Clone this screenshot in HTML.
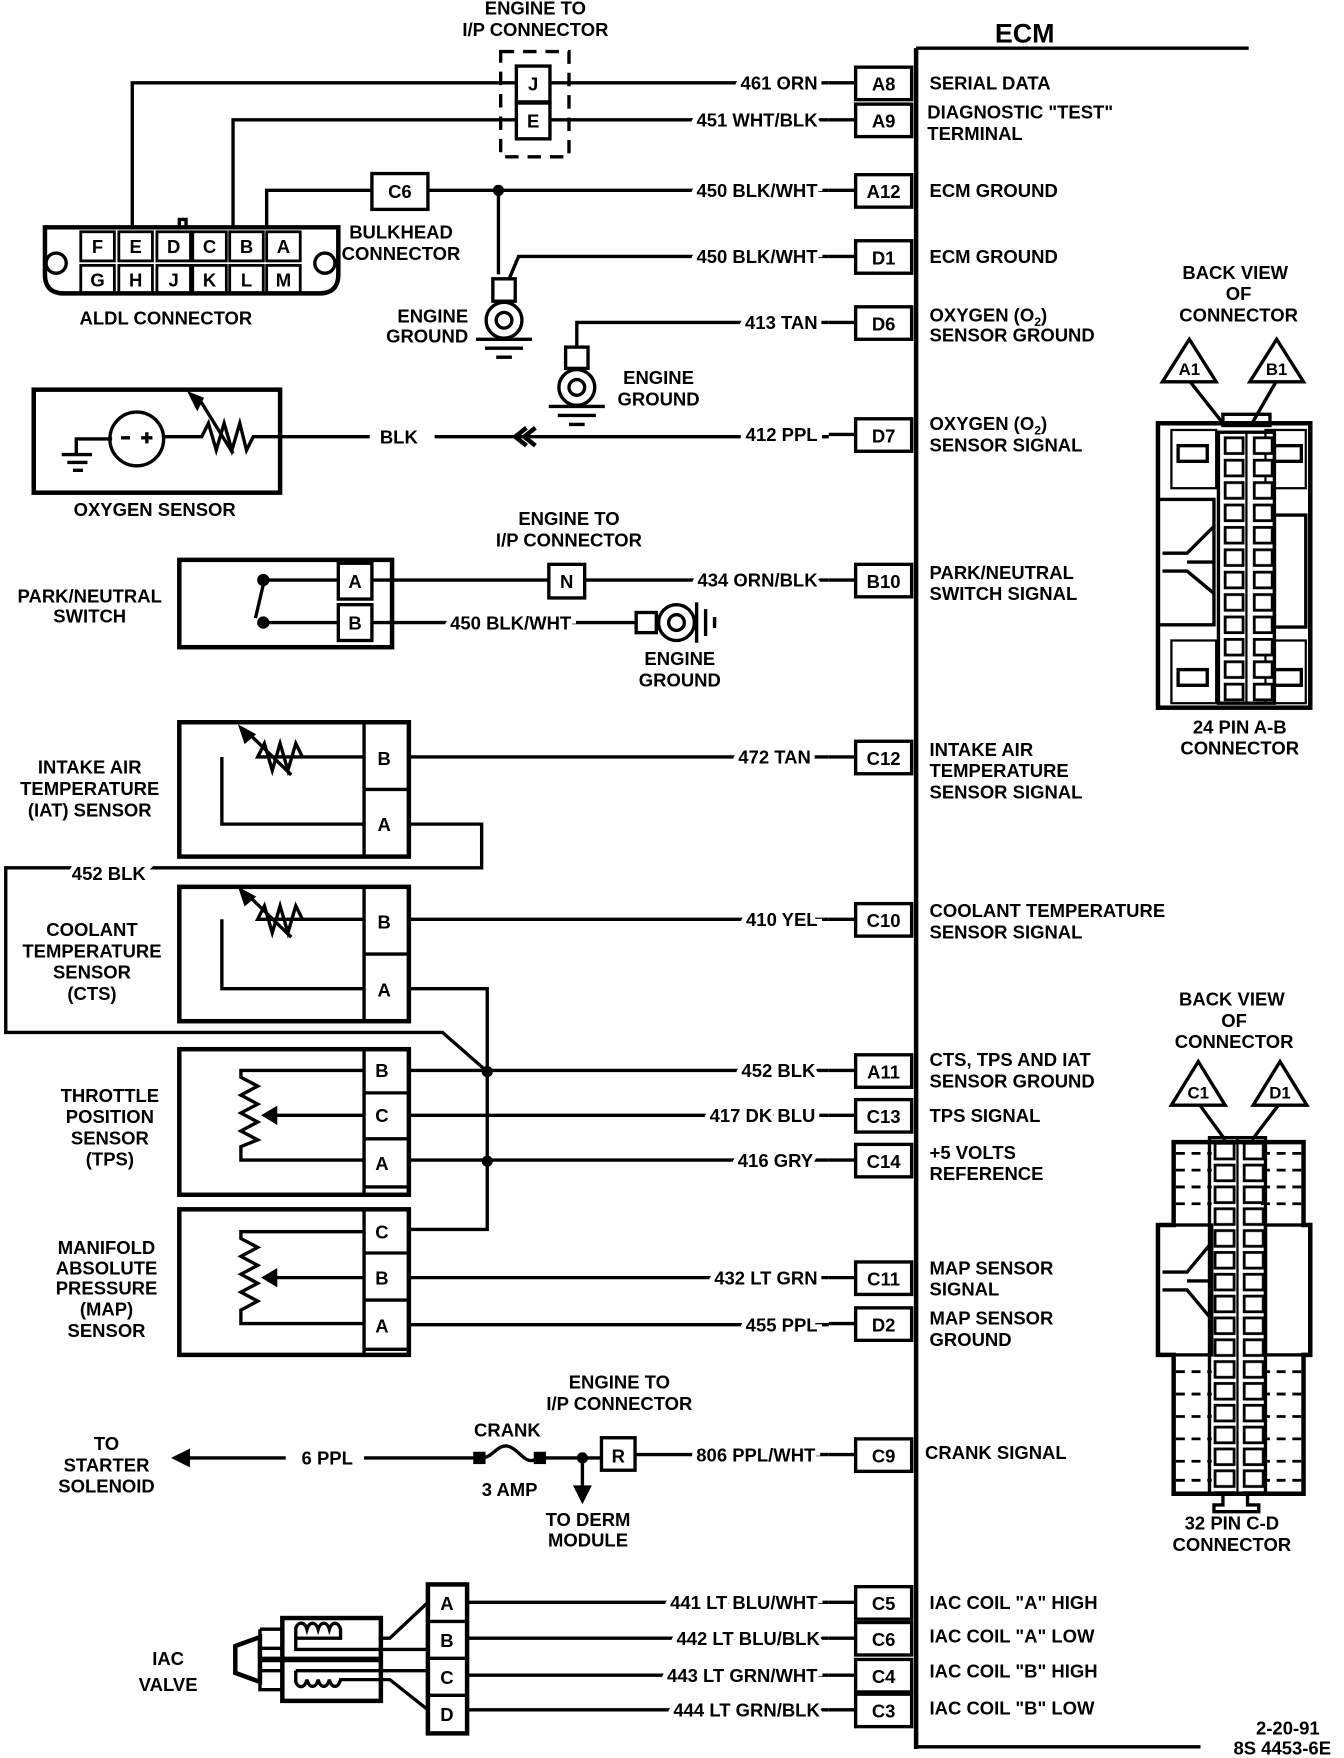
<!DOCTYPE html>
<html><head><meta charset="utf-8"><style>
html,body{margin:0;padding:0;background:#fff}
svg{display:block}
text{font-family:"Liberation Sans",Arial,sans-serif;font-weight:bold;font-size:16.5px;fill:#000}
.w{stroke:#fff;stroke-width:9;paint-order:stroke}
.m{text-anchor:middle}
.e{text-anchor:end}
</style></head><body>
<svg width="1344" height="1758" viewBox="0 0 1200 1570" xmlns="http://www.w3.org/2000/svg">
<defs>
<pattern id="c1" x="1092" y="388" width="26" height="20" patternUnits="userSpaceOnUse">
<rect x="2" y="3" width="16" height="14" fill="#fff" stroke="#000" stroke-width="2.5"/></pattern>
<pattern id="c2" x="1083" y="1018" width="26" height="19.5" patternUnits="userSpaceOnUse">
<rect x="2" y="3" width="17" height="14" fill="#fff" stroke="#000" stroke-width="2.5"/></pattern>
</defs>
<g stroke="#000" stroke-width="3" fill="none">
<line x1="818" y1="43" x2="818" y2="1562" stroke-width="4"/>
<line x1="818" y1="43" x2="1115" y2="43"/>
<line x1="818" y1="1560" x2="1072" y2="1560"/>
<g stroke-width="3">
<rect x="764" y="60" width="50" height="29"/><rect x="764" y="93" width="50" height="29"/>
<rect x="764" y="156" width="50" height="29"/><rect x="764" y="215" width="50" height="29"/>
<rect x="764" y="274" width="50" height="29"/><rect x="764" y="374" width="50" height="29"/>
<rect x="764" y="504" width="50" height="29"/><rect x="764" y="662" width="50" height="29"/>
<rect x="764" y="807" width="50" height="29"/><rect x="764" y="942" width="50" height="29"/>
<rect x="764" y="982" width="50" height="29"/><rect x="764" y="1022" width="50" height="29"/>
<rect x="764" y="1127" width="50" height="29"/><rect x="764" y="1168" width="50" height="29"/>
<rect x="764" y="1285" width="50" height="29"/><rect x="764" y="1417" width="50" height="29"/>
<rect x="764" y="1449" width="50" height="29"/><rect x="764" y="1482" width="50" height="29"/>
<rect x="764" y="1513" width="50" height="29"/>
</g>
<path d="M740 74H764M740 107H764M740 170H764M740 229H764M740 288H764M740 388H764M740 518H764M740 676H764M740 821H764M740 956H764M740 996H764M740 1036H764M740 1141H764M740 1182H764M740 1299H764M740 1431H764M740 1463H764M740 1496H764M740 1527H764"/>
<rect x="447" y="46" width="61" height="94" stroke-dasharray="12 8"/>
<rect x="461" y="59" width="30" height="32"/><rect x="461" y="92" width="30" height="32"/>
<path d="M118 205V74H461M491 74H740"/>
<path d="M208 205V107H461M491 107H740"/>
<path d="M238 205V170H332M382 170H740"/>
<rect x="332" y="155" width="50" height="32"/>
<path d="M445 170V245"/>
<path d="M740 229H463L455 248"/>
<rect x="440" y="249" width="20" height="20"/>
<circle cx="450" cy="286" r="16"/><circle cx="450" cy="286" r="7"/>
<path d="M425 303H475M433 311H467M443 319H457"/>
<path d="M740 288H515V310"/>
<rect x="505" y="310" width="20" height="19"/>
<circle cx="515" cy="346" r="16"/><circle cx="515" cy="346" r="7"/>
<path d="M490 363H540M498 371H532M508 379H522"/>
<path d="M40 203H302V245Q302 262 285 262H57Q40 262 40 245Z" stroke-width="4"/>
<path d="M160 203V196H166V203"/>
<circle cx="50" cy="235" r="9"/><circle cx="290" cy="235" r="9"/>
<g stroke-width="2.5">
<rect x="72" y="207" width="30" height="26"/><rect x="106" y="207" width="30" height="26"/><rect x="140" y="207" width="30" height="26"/><rect x="172" y="207" width="30" height="26"/><rect x="205" y="207" width="30" height="26"/><rect x="238" y="207" width="30" height="26"/>
<rect x="72" y="237" width="30" height="25"/><rect x="106" y="237" width="30" height="25"/><rect x="140" y="237" width="30" height="25"/><rect x="172" y="237" width="30" height="25"/><rect x="205" y="237" width="30" height="25"/><rect x="238" y="237" width="30" height="25"/>
</g>
<rect x="30" y="348" width="220" height="92" stroke-width="4"/>
<path d="M68 405V392H100M55 406H82M60 413H78M65 420H74"/>
<circle cx="122" cy="392" r="24"/>
<path d="M108 391H116M126 391H136M131 386V396"/>
<path d="M146 390H180L186 378L193 402L200 378L207 402L214 378L220 402L226 390H250M177 355L208 405"/>
<path d="M170 352L180 356L176 364Z" fill="#000"/>
<path d="M250 390H330M388 390H740"/>
<path d="M470 382L460 390L470 398M478 382L468 390L478 398" stroke-width="4"/>
<rect x="160" y="500" width="190" height="78" stroke-width="4"/>
<rect x="302" y="503" width="30" height="32"/><rect x="302" y="540" width="30" height="32"/>
<path d="M302 518H235V522M302 556H235M235 522L228 552"/>
<circle cx="235" cy="518" r="4" fill="#000"/><circle cx="235" cy="556" r="4" fill="#000"/>
<path d="M332 518H490M522 518H740"/>
<rect x="490" y="504" width="32" height="30"/>
<path d="M332 556H568"/>
<rect x="568" y="547" width="18" height="18"/>
<circle cx="604" cy="556" r="16"/><circle cx="604" cy="556" r="7"/>
<path d="M622 538V574M630 544V568M638 551V561"/>
<rect x="160" y="645" width="205" height="120" stroke-width="4"/>
<path d="M325 645V765M325 705H365"/>
<path d="M325 676H230L236 664L243 688L250 664L257 688L264 664L270 676M198 676V736H325M222 655L260 692"/>
<path d="M215 650L226 656L219 662Z" fill="#000"/>
<path d="M365 676H740M365 736H430V775H5V922H395L435 957"/>
<rect x="160" y="792" width="205" height="120" stroke-width="4"/>
<path d="M325 792V912M325 852H365"/>
<path d="M325 821H230L236 809L243 833L250 809L257 833L264 809L270 821M198 821V883H325M222 800L260 837"/>
<path d="M215 795L226 801L219 807Z" fill="#000"/>
<path d="M365 821H740M365 883H435V1098H365"/>
<rect x="160" y="937" width="205" height="130" stroke-width="4"/>
<path d="M325 937V1067M325 976H365M325 1017H365M325 1060H365"/>
<path d="M325 956H215V962L230 970L215 978L230 986L215 994L230 1002L215 1010L230 1018L215 1024V1036H325M325 996H245"/>
<path d="M246 990L236 996L246 1002Z" fill="#000"/>
<path d="M365 956H740M365 996H740M365 1036H740"/>
<rect x="160" y="1080" width="205" height="130" stroke-width="4"/>
<path d="M325 1080V1210M325 1119H365M325 1161H365M325 1205H365"/>
<path d="M325 1100H215V1106L230 1114L215 1122L230 1130L215 1138L230 1146L215 1154L230 1162L215 1170V1182H325M325 1141H245"/>
<path d="M246 1135L236 1141L246 1147Z" fill="#000"/>
<path d="M365 1141H740M365 1183H740"/>
<path d="M255 1302H160"/>
<path d="M168 1296L156 1302L168 1308Z" fill="#000"/>
<path d="M325 1302H425M485 1302H537M567 1299H740"/>
<path d="M430 1302C440 1302 445 1288 455 1292C465 1296 470 1310 480 1302"/>
<rect x="424" y="1298" width="8" height="8" fill="#000"/><rect x="478" y="1298" width="8" height="8" fill="#000"/>
<rect x="537" y="1284" width="30" height="29"/>
<path d="M520 1302V1335"/>
<path d="M514 1328L520 1340L526 1328Z" fill="#000"/>
<rect x="382" y="1415" width="35" height="133" stroke-width="4"/>
<path d="M382 1448H417M382 1481H417M382 1514H417"/>
<path d="M417 1431H740M417 1463H740M417 1496H740M417 1527H740"/>
<rect x="252" y="1445" width="88" height="74" stroke-width="4"/>
<path d="M232 1455H252M232 1455V1509H252M232 1472H252M232 1492H252"/>
<path d="M210 1470L232 1462V1502L210 1494Z" stroke-width="4"/>
<path d="M232 1482H338" stroke-width="5"/>
<path d="M290 1463H264V1454C266 1448 272 1448 274 1455C276 1448 282 1448 284 1455C286 1448 292 1448 294 1455C296 1448 302 1448 304 1455V1463H290M264 1463V1473H338"/>
<path d="M264 1492V1502C266 1508 272 1508 274 1500C276 1508 282 1508 284 1500C286 1508 292 1508 294 1500C296 1508 302 1508 304 1500H338M264 1492H338"/>
<path d="M338 1463H348L382 1431M338 1473H382V1463M338 1492H382M338 1500H348L382 1527"/>
<!-- 24 pin connector -->
<path d="M1062 340L1092 378M1140 340L1118 378"/>
<path d="M1038 341L1062 303L1086 341Z M1116 341L1140 303L1164 341Z" fill="#fff" stroke-width="3"/>
<rect x="1034" y="378" width="136" height="254" stroke-width="4"/>
<rect x="1092" y="370" width="42" height="10"/>
<rect x="1046" y="384" width="40" height="52" stroke-width="2"/><rect x="1130" y="384" width="36" height="52" stroke-width="2"/>
<rect x="1052" y="398" width="26" height="14"/><rect x="1138" y="398" width="24" height="14"/>
<rect x="1046" y="572" width="40" height="56" stroke-width="2"/><rect x="1130" y="572" width="36" height="56" stroke-width="2"/>
<rect x="1052" y="598" width="26" height="14"/><rect x="1138" y="598" width="24" height="14"/>
<rect x="1034" y="446" width="50" height="112" stroke-width="3"/>
<rect x="1138" y="460" width="28" height="100" stroke-width="3"/>
<path d="M1038 494H1060L1084 470M1038 510H1060L1084 530M1060 502H1084"/>
<rect x="1088" y="386" width="50" height="242" fill="url(#c1)" stroke-width="3"/>
<line x1="1113" y1="386" x2="1113" y2="628" stroke-width="2"/>
<!-- 32 pin connector -->
<path d="M1070 985L1094 1018M1143 985L1118 1018"/>
<path d="M1046 987L1070 948L1094 987Z M1119 987L1143 948L1167 987Z" fill="#fff" stroke-width="3"/>
<path d="M1048 1020H1164V1094H1170V1210H1164V1334H1048V1210H1034V1094H1048Z" stroke-width="4"/>
<g stroke-width="2.5" stroke-dasharray="8 6">
<path d="M1050 1030H1082M1050 1045H1082M1050 1060H1082M1050 1075H1082M1126 1030H1162M1126 1045H1162M1126 1060H1162M1126 1075H1162"/>
<path d="M1050 1225H1082M1050 1245H1082M1050 1265H1082M1050 1285H1082M1050 1305H1082M1050 1322H1082M1126 1225H1162M1126 1245H1162M1126 1265H1162M1126 1285H1162M1126 1305H1162M1126 1322H1162"/>
</g>
<rect x="1034" y="1094" width="48" height="116" stroke-width="3"/>
<rect x="1130" y="1094" width="40" height="116" stroke-width="3"/>
<path d="M1038 1136H1060L1080 1112M1038 1152H1060L1080 1176M1060 1144H1080"/>
<rect x="1080" y="1016" width="50" height="318" fill="url(#c2)" stroke-width="3"/>
<line x1="1105" y1="1016" x2="1105" y2="1334" stroke-width="2"/>
<path d="M1092 1334V1344H1084V1350H1124V1344H1114V1334"/>
</g>
<g fill="#000">
<circle cx="445" cy="170" r="5"/><circle cx="435" cy="957" r="5"/><circle cx="435" cy="1037" r="5"/><circle cx="520" cy="1302" r="5"/>
</g>
<text x="915" y="38" class="m" style="font-size:24px">ECM</text>
<g class="m" style="font-size:16px">
<text x="789" y="81">A8</text><text x="789" y="114">A9</text><text x="789" y="177">A12</text><text x="789" y="236">D1</text>
<text x="789" y="295">D6</text><text x="789" y="395">D7</text><text x="789" y="525">B10</text><text x="789" y="683">C12</text>
<text x="789" y="828">C10</text><text x="789" y="963">A11</text><text x="789" y="1003">C13</text><text x="789" y="1043">C14</text>
<text x="789" y="1148">C11</text><text x="789" y="1189">D2</text><text x="789" y="1306">C9</text><text x="789" y="1438">C5</text>
<text x="789" y="1470">C6</text><text x="789" y="1503">C4</text><text x="789" y="1534">C3</text>
</g>
<g class="e w">
<text x="730" y="80">461 ORN</text><text x="730" y="113">451 WHT/BLK</text><text x="730" y="176">450 BLK/WHT</text>
<text x="730" y="235">450 BLK/WHT</text><text x="730" y="294">413 TAN</text><text x="730" y="394">412 PPL</text>
<text x="730" y="524">434 ORN/BLK</text><text x="724" y="682">472 TAN</text><text x="730" y="827">410 YEL</text>
<text x="728" y="962">452 BLK</text><text x="728" y="1002">417 DK BLU</text><text x="726" y="1042">416 GRY</text>
<text x="730" y="1147">432 LT GRN</text><text x="730" y="1189">455 PPL</text><text x="728" y="1305">806 PPL/WHT</text>
<text x="730" y="1437">441 LT BLU/WHT</text><text x="732" y="1469">442 LT BLU/BLK</text><text x="730" y="1502">443 LT GRN/WHT</text>
<text x="732" y="1533">444 LT GRN/BLK</text>
<text x="510" y="562">450 BLK/WHT</text><text x="315" y="1308">6 PPL</text>
<text x="130" y="786">452 BLK</text><text x="373" y="396">BLK</text>
</g>
<g>
<text x="830" y="80">SERIAL DATA</text><text x="828" y="106">DIAGNOSTIC "TEST"</text><text x="828" y="125">TERMINAL</text>
<text x="830" y="176">ECM GROUND</text><text x="830" y="235">ECM GROUND</text>
<text x="830" y="287">OXYGEN (O<tspan font-size="11" dy="4">2</tspan><tspan dy="-4">)</tspan></text><text x="830" y="305">SENSOR GROUND</text>
<text x="830" y="384">OXYGEN (O<tspan font-size="11" dy="4">2</tspan><tspan dy="-4">)</tspan></text><text x="830" y="403">SENSOR SIGNAL</text>
<text x="830" y="517">PARK/NEUTRAL</text><text x="830" y="536">SWITCH SIGNAL</text>
<text x="830" y="675">INTAKE AIR</text><text x="830" y="694">TEMPERATURE</text><text x="830" y="713">SENSOR SIGNAL</text>
<text x="830" y="819">COOLANT TEMPERATURE</text><text x="830" y="838">SENSOR  SIGNAL</text>
<text x="830" y="952">CTS, TPS AND IAT</text><text x="830" y="971">SENSOR GROUND</text>
<text x="830" y="1002">TPS SIGNAL</text>
<text x="830" y="1035">+5 VOLTS</text><text x="830" y="1054">REFERENCE</text>
<text x="830" y="1138">MAP SENSOR</text><text x="830" y="1157">SIGNAL</text>
<text x="830" y="1183">MAP SENSOR</text><text x="830" y="1202">GROUND</text>
<text x="826" y="1303">CRANK SIGNAL</text>
<text x="830" y="1437">IAC COIL "A" HIGH</text><text x="830" y="1467">IAC COIL "A" LOW</text>
<text x="830" y="1498">IAC COIL "B" HIGH</text><text x="830" y="1531">IAC COIL "B" LOW</text>
</g>
<g class="m">
<text x="478" y="13">ENGINE TO</text><text x="478" y="32">I/P CONNECTOR</text>
<text x="476" y="81">J</text><text x="476" y="114">E</text>
<text x="357" y="177">C6</text>
<text x="358" y="213">BULKHEAD</text><text x="358" y="232">CONNECTOR</text>
<text x="148" y="290">ALDL  CONNECTOR</text>
<text x="87" y="226">F</text><text x="121" y="226">E</text><text x="155" y="226">D</text><text x="187" y="226">C</text><text x="220" y="226">B</text><text x="253" y="226">A</text>
<text x="87" y="256">G</text><text x="121" y="256">H</text><text x="155" y="256">J</text><text x="187" y="256">K</text><text x="220" y="256">L</text><text x="253" y="256">M</text>
<text x="588" y="343">ENGINE</text><text x="588" y="362">GROUND</text>
<text x="138" y="461">OXYGEN SENSOR</text>
<text x="508" y="469">ENGINE TO</text><text x="508" y="488">I/P CONNECTOR</text>
<text x="506" y="525">N</text><text x="317" y="525">A</text><text x="317" y="562">B</text>
<text x="80" y="538">PARK/NEUTRAL</text><text x="80" y="556">SWITCH</text>
<text x="607" y="594">ENGINE</text><text x="607" y="613">GROUND</text>
<text x="80" y="691">INTAKE AIR</text><text x="80" y="710">TEMPERATURE</text><text x="80" y="729">(IAT)  SENSOR</text>
<text x="343" y="683">B</text><text x="343" y="742">A</text>
<text x="82" y="836">COOLANT</text><text x="82" y="855">TEMPERATURE</text><text x="82" y="874">SENSOR</text><text x="82" y="893">(CTS)</text>
<text x="343" y="829">B</text><text x="343" y="890">A</text>
<text x="98" y="984">THROTTLE</text><text x="98" y="1003">POSITION</text><text x="98" y="1022">SENSOR</text><text x="98" y="1041">(TPS)</text>
<text x="341" y="962">B</text><text x="341" y="1002">C</text><text x="341" y="1045">A</text>
<text x="95" y="1120">MANIFOLD</text><text x="95" y="1138">ABSOLUTE</text><text x="95" y="1156">PRESSURE</text><text x="95" y="1175">(MAP)</text><text x="95" y="1194">SENSOR</text>
<text x="341" y="1106">C</text><text x="341" y="1147">B</text><text x="341" y="1190">A</text>
<text x="553" y="1240">ENGINE TO</text><text x="553" y="1259">I/P CONNECTOR</text>
<text x="453" y="1283">CRANK</text><text x="455" y="1336">3 AMP</text>
<text x="552" y="1306">R</text>
<text x="525" y="1363">TO DERM</text><text x="525" y="1381">MODULE</text>
<text x="95" y="1295">TO</text><text x="95" y="1314">STARTER</text><text x="95" y="1333">SOLENOID</text>
<text x="150" y="1487">IAC</text><text x="150" y="1510">VALVE</text>
<text x="399" y="1438">A</text><text x="399" y="1471">B</text><text x="399" y="1504">C</text><text x="399" y="1537">D</text>
<text x="1103" y="249">BACK VIEW</text><text x="1106" y="268">OF</text><text x="1106" y="287">CONNECTOR</text>
<text x="1062" y="335" style="font-size:15px">A1</text><text x="1140" y="335" style="font-size:15px">B1</text>
<text x="1107" y="655">24 PIN  A-B</text><text x="1107" y="674">CONNECTOR</text>
<text x="1100" y="898">BACK VIEW</text><text x="1102" y="917">OF</text><text x="1102" y="936">CONNECTOR</text>
<text x="1070" y="981" style="font-size:15px">C1</text><text x="1143" y="981" style="font-size:15px">D1</text>
<text x="1100" y="1366">32  PIN  C-D</text><text x="1100" y="1385">CONNECTOR</text>
<text x="1150" y="1549">2-20-91</text><text x="1145" y="1567">8S 4453-6E</text>
</g>
<g class="e">
<text x="418" y="288">ENGINE</text><text x="418" y="306">GROUND</text>
</g>
</svg>
</body></html>
